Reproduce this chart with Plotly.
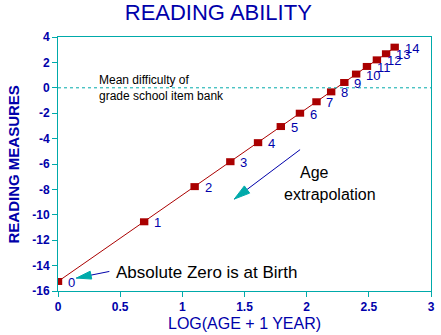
import plotly.graph_objects as go

# Ages (years) and their position on the log(age + 1) axis
ages = [0, 1, 2, 3, 4, 5, 6, 7, 8, 9, 10, 11, 12, 13, 14]
log_age = [0.0, 0.693, 1.099, 1.386, 1.609, 1.792, 1.946, 2.079,
           2.197, 2.303, 2.398, 2.485, 2.565, 2.639, 2.708]
# Reading measures (logits) at each age
measures = [-15.25, -10.55, -7.78, -5.82, -4.32, -3.05, -2.0, -1.1,
            -0.32, 0.42, 1.08, 1.68, 2.2, 2.68, 3.2]
age_labels = [str(a) for a in ages]

x_ticks = [0, 0.5, 1, 1.5, 2, 2.5, 3]
x_tick_labels = ["0", "0.5", "1", "1.5", "2", "2.5", "3"]
y_ticks = [-16, -14, -12, -10, -8, -6, -4, -2, 0, 2, 4]
y_tick_labels = ["-16", "-14", "-12", "-10", "-8", "-6", "-4", "-2", "0", "2", "4"]

BLUE = "#0000AA"
TEAL = "#00AAAA"
RED = "#AA0000"
FONT = "Liberation Sans"

W, H = 441, 335
M = dict(l=58, r=6, t=37, b=44)
X_RANGE = [0, 3]
Y_RANGE = [-16, 4]
px_per_x = (W - M["l"] - M["r"]) / (X_RANGE[1] - X_RANGE[0])
px_per_y = (H - M["t"] - M["b"]) / (Y_RANGE[1] - Y_RANGE[0])

fig = go.Figure()

fig.add_trace(go.Scatter(
    x=log_age, y=measures, mode="lines+markers",
    line=dict(color=RED, width=1),
    marker=dict(symbol="line-ew", size=6, color=RED,
                line=dict(color=RED, width=7)),
    hoverinfo="skip", showlegend=False,
))

annotations = []
# age labels beside each point
for xa, ya, lab in zip(log_age, measures, age_labels):
    annotations.append(dict(
        x=xa, y=ya, text=lab, showarrow=False, xanchor="left", yanchor="middle",
        xshift=8, yshift=-1, font=dict(family=FONT, size=13, color=BLUE),
    ))

def note(x, y, text, size, color="black", anchor="left"):
    annotations.append(dict(x=x, y=y, text=text, showarrow=False,
                            xanchor=anchor, yanchor="middle",
                            font=dict(family=FONT, size=size, color=color)))

note(0.31, 0.58, "Mean difficulty of", 12)
note(0.31, -0.68, "grade school item bank", 12)
note(1.929, -6.69, "Age", 16)
note(1.80, -8.42, "extrapolation", 16)
note(0.447, -14.56, "Absolute Zero is at Birth", 17)

shapes = [dict(type="line", x0=0, x1=3, y0=0, y1=0, xref="x", yref="y",
               line=dict(color=TEAL, width=1, dash="dot"))]

def arrow(tail, tip, head_len=16, half_w=4.5):
    """Blue shaft ending in a filled teal head at tip."""
    shapes.append(dict(type="line", x0=tail[0], y0=tail[1], x1=tip[0], y1=tip[1],
                       xref="x", yref="y", line=dict(color=BLUE, width=1)))
    # work in pixels to build the head triangle
    dxp = (tail[0] - tip[0]) * px_per_x
    dyp = (tail[1] - tip[1]) * px_per_y
    n = (dxp ** 2 + dyp ** 2) ** 0.5
    ux, uy = dxp / n, dyp / n
    bx, by = ux * head_len, uy * head_len
    px_, py_ = -uy * half_w, ux * half_w
    pts = [(0, 0), (bx + px_, by + py_), (bx - px_, by - py_)]
    coords = [(tip[0] + a / px_per_x, tip[1] + b / px_per_y) for a, b in pts]
    path = "M{},{} L{},{} L{},{} Z".format(*[v for p in coords for v in p])
    shapes.append(dict(type="path", path=path, xref="x", yref="y",
                       fillcolor=TEAL, line=dict(color=TEAL, width=1)))

arrow((1.947, -4.87), (1.418, -8.76))
arrow((0.413, -14.46), (0.148, -14.98), head_len=15, half_w=4)

# axis titles
annotations.append(dict(
    x=(13 - M["l"]) / (W - M["l"] - M["r"]), y=0.5, xref="paper", yref="paper",
    text="READING MEASURES", textangle=-90, showarrow=False,
    xanchor="center", yanchor="middle",
    font=dict(family=FONT, size=15, color=BLUE, weight="bold"),
))
annotations.append(dict(
    x=0.5, y=-(323 - (H - M["b"])) / (H - M["t"] - M["b"]), xref="paper", yref="paper",
    text="LOG(AGE + 1 YEAR)", showarrow=False, xanchor="center", yanchor="middle",
    font=dict(family=FONT, size=16, color=BLUE),
))

axis_common = dict(
    showgrid=False, zeroline=False, showline=True, linecolor=TEAL, linewidth=1,
    mirror=True, ticks="outside", ticklen=5, tickcolor=TEAL, tickwidth=1,
    tickfont=dict(family=FONT, size=12, color=BLUE, weight="bold"),
)

fig.update_layout(
    width=W, height=H, margin=M,
    paper_bgcolor="white", plot_bgcolor="white",
    title=dict(text="READING ABILITY", x=0.495, xref="container", xanchor="center",
               y=1 - 12 / H, yref="container", yanchor="middle",
               font=dict(family=FONT, size=22, color=BLUE)),
    xaxis=dict(range=X_RANGE, tickvals=x_ticks, ticktext=x_tick_labels, **axis_common),
    yaxis=dict(range=Y_RANGE, tickvals=y_ticks, ticktext=y_tick_labels, **axis_common),
    annotations=annotations, shapes=shapes, showlegend=False,
)

fig.write_html("out.html")
